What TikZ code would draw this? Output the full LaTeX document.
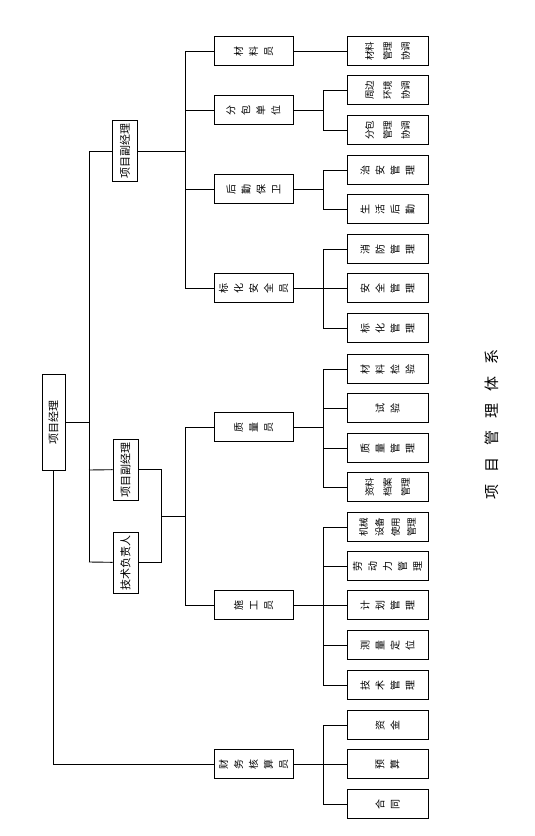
\documentclass[tikz,border=0pt]{standalone}
\usepackage{fontspec}
\setmainfont{Noto Sans CJK SC}
\begin{document}
\begin{tikzpicture}[x=1pt,y=-1pt,line width=0.9pt,
  box/.style={draw,rotate=90,inner sep=0pt,align=center,font=\fontsize{10}{15}\selectfont},
  midbox/.style={box,minimum width=29pt,minimum height=79pt},
  leafbox/.style={box,minimum width=29pt,minimum height=81pt},
  twobox/.style={leafbox,font=\fontsize{9.5}{18}\selectfont},
  tallbox/.style={box,minimum width=61pt,minimum height=25pt,font=\fontsize{11}{13}\selectfont},
]
\useasboundingbox (0,0) rectangle (535,836);
% root and first level
\node[tallbox,minimum width=96pt,minimum height=23pt] (root) at (53.5,422) {项目经理};
\node[tallbox] (vpa) at (125,151) {项目副经理};
\node[tallbox] (vpb) at (125.5,469.5) {项目副经理};
\node[tallbox] (tech) at (125.5,562.5) {技术负责人};
% middle column
\node[midbox] (cly) at (253.5,51) {材\\料\\员};
\node[midbox] (fbdw) at (253.5,110) {分\\包\\单\\位};
\node[midbox] (hqbw) at (253.5,189) {后\\勤\\保\\卫};
\node[midbox] (bhaq) at (253.5,288) {标\\化\\安\\全\\员};
\node[midbox] (zly) at (253.5,427) {质\\量\\员};
\node[midbox] (sgy) at (253.5,605) {施\\工\\员};
\node[midbox] (cwhs) at (253.5,764) {财\\务\\核\\算\\员};
% leaves
\node[twobox] (l1) at (387.5,51) {材料\\管理\\协调};
\node[twobox] (l2) at (387.5,90) {周边\\环境\\协调};
\node[twobox] (l3) at (387.5,130) {分包\\管理\\协调};
\node[leafbox] (l4) at (387.5,170) {治\\安\\管\\理};
\node[leafbox] (l5) at (387.5,209) {生\\活\\后\\勤};
\node[leafbox] (l6) at (387.5,249) {消\\防\\管\\理};
\node[leafbox] (l7) at (387.5,288) {安\\全\\管\\理};
\node[leafbox] (l8) at (387.5,328) {标\\化\\管\\理};
\node[leafbox] (l9) at (387.5,369) {材\\料\\检\\验};
\node[leafbox] (l10) at (387.5,408) {试\\验};
\node[leafbox] (l11) at (387.5,448) {质\\量\\管\\理};
\node[twobox] (l12) at (387.5,487) {资料\\档案\\管理};
\node[twobox,font=\fontsize{9.5}{16}\selectfont] (l13) at (387.5,527) {机械\\设备\\使用\\管理};
\node[leafbox] (l14) at (387.5,566) {劳\\动\\力\\管\\理};
\node[leafbox] (l15) at (387.5,605) {计\\划\\管\\理};
\node[leafbox] (l16) at (387.5,645) {测\\量\\定\\位};
\node[leafbox] (l17) at (387.5,685) {技\\术\\管\\理};
\node[leafbox] (l18) at (387.5,725) {资\\金};
\node[leafbox] (l19) at (387.5,764) {预\\算};
\node[leafbox] (l20) at (387.5,804) {合\\同};
% title
\node[rotate=90,font=\fontsize{15}{15}\selectfont] (title) at (492,424)
  {项\hspace{12pt}目\hspace{12pt}管\hspace{12pt}理\hspace{12pt}体\hspace{12pt}系};
% junctions
\coordinate (t0) at (89,422);
\coordinate (t1) at (89,151);
\coordinate (t2) at (89,470);
\coordinate (t3) at (89,562);
\coordinate (ja) at (185.5,151);
\coordinate (m) at (161,516);
\coordinate (mb) at (185.5,516);
\coordinate (jf) at (323,110);
\coordinate (jh) at (323,189);
\coordinate (jb) at (323,288);
\coordinate (jz) at (323,427);
\coordinate (js) at (323,605);
\coordinate (jc) at (323,764);
% connectors
\draw (root) -- (t0);
\draw (t1) -- (t3);
\draw (t1) -- (vpa);
\draw (t2) -- (vpb);
\draw (t3) -- (tech);
\draw (root) |- (cwhs);
\draw (vpa) -- (ja);
\foreach \n in {cly,fbdw,hqbw,bhaq} \draw (\n) -| (ja);
\draw (vpb) -| (m);
\draw (tech) -| (m);
\draw (m) -- (mb);
\draw (zly) -| (mb);
\draw (sgy) -| (mb);
\draw (cly) -- (l1);
\draw (fbdw) -- (jf);
\foreach \n in {l2,l3} \draw (\n) -| (jf);
\draw (hqbw) -- (jh);
\foreach \n in {l4,l5} \draw (\n) -| (jh);
\draw (bhaq) -- (jb);
\foreach \n in {l6,l7,l8} \draw (\n) -| (jb);
\draw (zly) -- (jz);
\foreach \n in {l9,l10,l11,l12} \draw (\n) -| (jz);
\draw (sgy) -- (js);
\foreach \n in {l13,l14,l15,l16,l17} \draw (\n) -| (js);
\draw (cwhs) -- (jc);
\foreach \n in {l18,l19,l20} \draw (\n) -| (jc);
\end{tikzpicture}
\end{document}
